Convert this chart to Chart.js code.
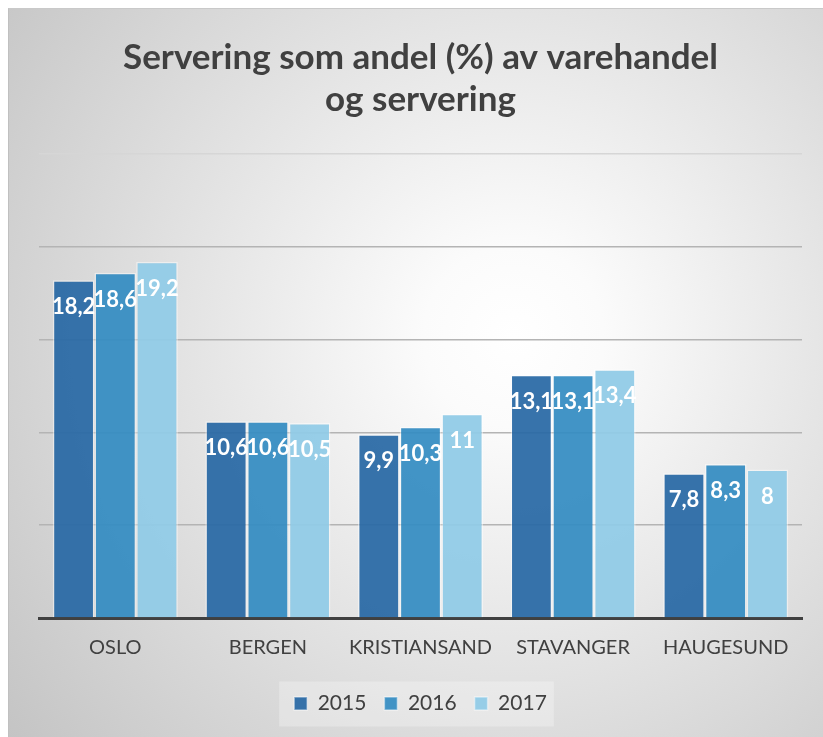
<!DOCTYPE html>
<html>
<head>
<meta charset="utf-8">
<script src="https://cdn.jsdelivr.net/npm/chart.js@4.4.1/dist/chart.umd.min.js"></script>
<style>
  html, body { margin: 0; padding: 0; background: #ffffff; width: 823px; height: 737px; overflow: hidden; }
  #wrap {
    position: absolute; left: 8px; top: 8px; width: 815px; height: 729px;
    background: radial-gradient(circle farthest-corner at 62% 45%, #ffffff 0%, #fbfbfb 14%, #c4c4c4 100%);
    border-top: 1px solid #c9c9c9; border-left: 1px solid #c0c0c0;
    box-sizing: border-box;
  }
  canvas { position: absolute; left: 0; top: 0; }
</style>
</head>
<body>
<div id="wrap"><canvas id="c" width="814" height="728"></canvas></div>
<script>
const titleLines = ["Servering som andel (%) av varehandel", "og servering"];
const categories = ["OSLO", "BERGEN", "KRISTIANSAND", "STAVANGER", "HAUGESUND"];
const seriesNames = ["2015", "2016", "2017"];
const values2015 = [18.2, 10.6, 9.9, 13.1, 7.8];
const values2016 = [18.6, 10.6, 10.3, 13.1, 8.3];
const values2017 = [19.2, 10.5, 11, 13.4, 8];
const yTicks = [0, 5, 10, 15, 20, 25];

const colors = ["rgba(40,104,165,0.93)", "rgba(52,140,194,0.93)", "rgba(145,203,231,0.95)"];
const FONT = "Lato, 'Open Sans', sans-serif";

const dataLabelPlugin = {
  id: 'dataLabels',
  afterDatasetsDraw(chart) {
    const ctx = chart.ctx;
    ctx.save();
    ctx.fillStyle = '#ffffff';
    ctx.textAlign = 'center';
    ctx.textBaseline = 'middle';
    ctx.font = "bold 22px " + FONT;
    chart.data.datasets.forEach((ds, i) => {
      const meta = chart.getDatasetMeta(i);
      meta.data.forEach((el, j) => {
        const txt = String(ds.data[j]).replace('.', ',');
        ctx.fillText(txt, el.x, el.y + 27);
      });
    });
    ctx.restore();
  }
};

const legendBgPlugin = {
  id: 'legendBg',
  beforeDraw(chart) {
    const lg = chart.legend;
    if (!lg || !lg.legendHitBoxes || !lg.legendHitBoxes.length) return;
    const hb = lg.legendHitBoxes;
    const left = Math.min(...hb.map(h => h.left)) - 15;
    const right = Math.max(...hb.map(h => h.left + h.width)) + 7;
    const cy = hb[0].top + hb[0].height / 2;
    const ctx = chart.ctx;
    ctx.save();
    ctx.fillStyle = 'rgba(255,255,255,0.28)';
    ctx.fillRect(left, cy - 22, right - left, 45);
    ctx.restore();
  }
};

new Chart(document.getElementById('c'), {
  type: 'bar',
  data: {
    labels: categories,
    datasets: [
      { label: seriesNames[0], data: values2015, backgroundColor: colors[0] },
      { label: seriesNames[1], data: values2016, backgroundColor: colors[1] },
      { label: seriesNames[2], data: values2017, backgroundColor: colors[2] }
    ].map(d => Object.assign(d, {
      borderColor: 'rgba(255,255,255,0.45)', borderWidth: 1.5,
      categoryPercentage: 0.82, barPercentage: 1.0
    }))
  },
  options: {
    responsive: false,
    animation: false,
    devicePixelRatio: 1,
    layout: { padding: { left: 30, right: 21, top: 0, bottom: 13 } },
    plugins: {
      title: {
        display: true,
        text: titleLines,
        color: '#404040',
        font: { family: FONT, size: 35, weight: 'bold', lineHeight: '42px' },
        padding: { top: 28, bottom: 33 }
      },
      legend: {
        position: 'bottom',
        labels: {
          boxWidth: 13, boxHeight: 13, padding: 18,
          color: '#404040',
          font: { family: FONT, size: 21 }
        }
      },
      tooltip: { enabled: false }
    },
    scales: {
      x: {
        afterFit(s) { s.height = s.height - 3; },
        grid: { display: false, drawTicks: false },
        border: { display: true, color: '#404040', width: 3 },
        ticks: { color: '#404040', font: { family: FONT, size: 20 }, padding: 18 }
      },
      y: {
        min: 0, max: 25,
        afterFit(s) { s.width = 0; },
        afterBuildTicks(s) { s.ticks = yTicks.map(v => ({ value: v })); },
        ticks: { display: false },
        border: { display: false },
        grid: {
          drawTicks: false,
          lineWidth: 1.5,
          color: (c) => c.tick && c.tick.value === 25 ? '#d6d6d6' : '#b4b4b4'
        }
      }
    }
  },
  plugins: [legendBgPlugin, dataLabelPlugin]
});
</script>
</body>
</html>
